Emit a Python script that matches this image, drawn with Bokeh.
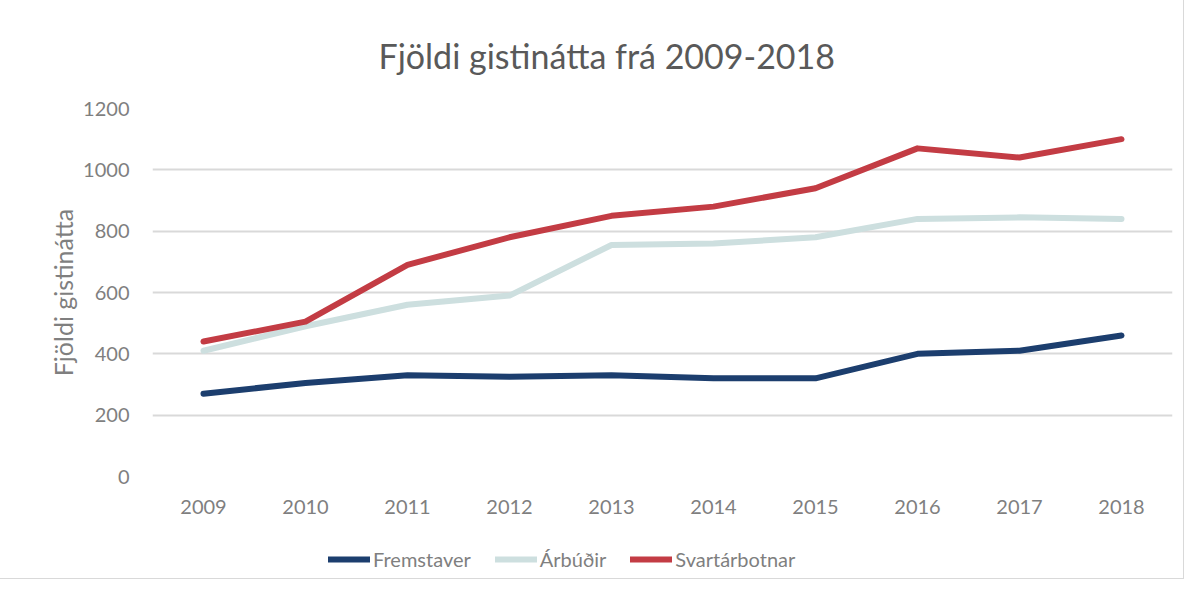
from bokeh.plotting import figure
from bokeh.models import Range1d, FixedTicker, Legend, LegendItem
from bokeh.layouts import column
from bokeh.embed import file_html
from bokeh.resources import INLINE

years = [2009, 2010, 2011, 2012, 2013, 2014, 2015, 2016, 2017, 2018]
fremstaver = [270, 305, 330, 325, 330, 320, 320, 400, 410, 460]
arbudir = [410, 490, 560, 590, 755, 760, 780, 840, 845, 840]
svartarbotnar = [440, 505, 690, 780, 850, 880, 940, 1070, 1040, 1100]
y_ticks = [0, 200, 400, 600, 800, 1000, 1200]
series_names = ["Fremstaver", "Árbúðir", "Svartárbotnar"]
series_colors = ["#1c3e6e", "#cddfdf", "#c33c44"]

FONT = "Lato"
GREY = "#7f7f7f"

p = figure(width=1183, height=530, output_backend="svg", toolbar_location=None,
           x_range=Range1d(2008.5, 2018.5), y_range=Range1d(0, 1200),
           min_border_left=152, min_border_right=11, min_border_top=106, min_border_bottom=54,
           title="Fjöldi gistinátta frá 2009-2018")
p.outline_line_color = None

p.title.align = "left"
p.title.offset = 226
p.title.standoff = 65
p.title.text_font = FONT
p.title.text_font_size = "34px"
p.title.text_font_style = "normal"
p.title.text_color = "#595959"

p.xaxis.ticker = FixedTicker(ticks=years)
p.yaxis.ticker = FixedTicker(ticks=y_ticks)
for ax in (p.xaxis[0], p.yaxis[0]):
    ax.axis_line_color = None
    ax.major_tick_line_color = None
    ax.minor_tick_line_color = None
    ax.major_label_text_font = FONT
    ax.major_label_text_font_size = "20px"
    ax.major_label_text_color = GREY
p.xaxis.major_label_standoff = 17
p.yaxis.major_label_standoff = 17
p.yaxis.axis_label = "Fjöldi gistinátta"
p.yaxis.axis_label_text_font = FONT
p.yaxis.axis_label_text_font_style = "normal"
p.yaxis.axis_label_text_font_size = "25px"
p.yaxis.axis_label_text_color = GREY
p.yaxis.axis_label_standoff = 2

p.xgrid.grid_line_color = None
p.ygrid.grid_line_color = "#d9d9d9"
p.ygrid.grid_line_width = 2

all_series = [fremstaver, arbudir, svartarbotnar]
for vals, col in zip(all_series, series_colors):
    p.line(years, vals, line_color=col, line_width=6, line_cap="round", line_join="round")

# legend strip below the chart (same series, drawn out of view so only the legend shows)
lf = figure(width=1183, height=48, output_backend="svg", toolbar_location=None,
            x_range=Range1d(2008.5, 2018.5), y_range=Range1d(-20, -10),
            x_axis_location=None, y_axis_location=None,
            min_border_left=152, min_border_right=11, min_border_top=10, min_border_bottom=0)
lf.outline_line_color = None
lf.grid.visible = False
items = []
for name, vals, col in zip(series_names, all_series, series_colors):
    r = lf.line(years, vals, line_color=col, line_width=6, line_cap="round")
    items.append(LegendItem(label=name, renderers=[r]))
legend = Legend(items=items, orientation="horizontal", location=(176, 7),
                glyph_width=42, label_standoff=3, spacing=24,
                label_text_font=FONT, label_text_font_size="20px", label_text_color=GREY,
                border_line_color=None, background_fill_alpha=0, padding=0, margin=0)
lf.add_layout(legend)

layout = column(p, lf, spacing=0)
layout.styles = {"outline": "1px solid #d9d9d9"}

open("out.html", "w").write(file_html(layout, INLINE))
